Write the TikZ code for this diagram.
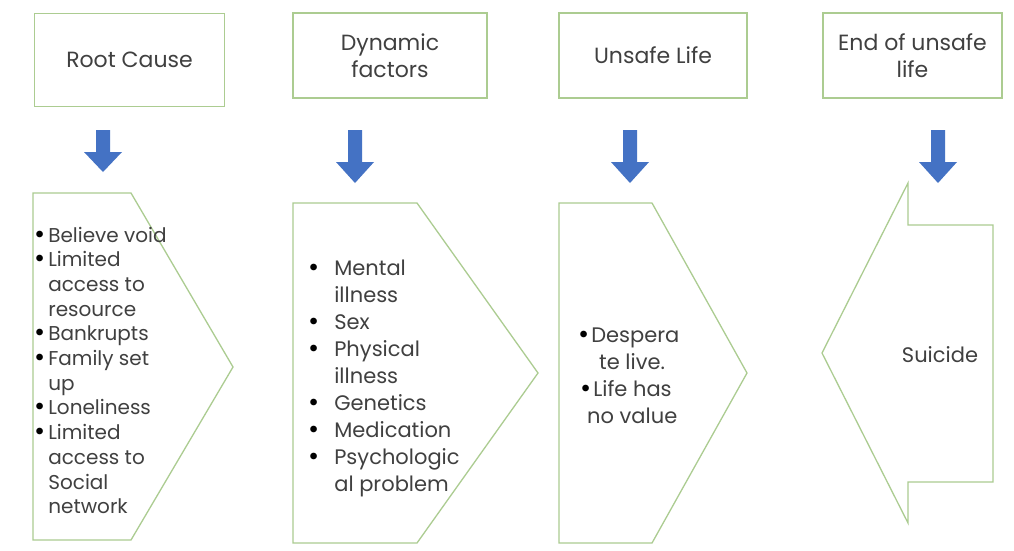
\documentclass[tikz,border=0pt]{standalone}
\usepackage{fontspec}
\setmainfont{Poppins}
\definecolor{boxgreen}{RGB}{172,204,145}
\definecolor{arrowblue}{RGB}{68,114,196}
\definecolor{txtgray}{RGB}{64,64,64}
\newcommand{\bul}{\raisebox{-1pt}{\color{black}\fontsize{27}{0}\selectfont\textbullet}}
\tikzset{
  topbox/.style={draw=boxgreen, line width=1.4pt, align=center, text=txtgray,
    inner sep=0pt, font=\fontsize{22}{27}\selectfont},
  pentshape/.style={draw=boxgreen, line width=1.3pt, line join=miter},
  downarrow/.style={fill=arrowblue, draw=none},
  listtext/.style={anchor=base west, inner sep=0pt, text=txtgray},
}
\begin{document}
\begin{tikzpicture}[x=1pt,y=-1pt]
\useasboundingbox (0,0) rectangle (1014,550);
\fill[white] (0,0) rectangle (1014,550);

% top boxes
\node[topbox, minimum width=190, minimum height=93] (b1) at (129.5,60) {Root Cause};
\node[topbox, minimum width=194, minimum height=85] (b2) at (390,55.5) {Dynamic\\factors};
\node[topbox, minimum width=188, minimum height=85] (b3) at (653,55.5) {Unsafe Life};
\node[topbox, minimum width=179, minimum height=85] (b4) at (912.5,55.5) {End of unsafe\\life};

% blue block arrows
\fill[downarrow] (96,130) -- (110,130) -- (110,152) -- (122,152) -- (103,172) -- (84,152) -- (96,152) -- cycle;
\fill[downarrow] (348,130) -- (362,130) -- (362,162) -- (374,162) -- (355,183) -- (336,162) -- (348,162) -- cycle;
\fill[downarrow] (623,130) -- (637,130) -- (637,162) -- (649,162) -- (630,183) -- (611,162) -- (623,162) -- cycle;
\fill[downarrow] (931,130) -- (945,130) -- (945,162) -- (957,162) -- (938,183) -- (919,162) -- (931,162) -- cycle;

% chevrons
\draw[pentshape] (33,193) -- (131,193) -- (233,367) -- (131,540) -- (33,540) -- cycle;
\draw[pentshape] (293,203) -- (417,203) -- (538,373) -- (417,543) -- (293,543) -- cycle;
\draw[pentshape] (559,203) -- (652,203) -- (747,373) -- (652,543) -- (559,543) -- cycle;
\draw[pentshape] (822,353) -- (908,183) -- (908,225) -- (993,225) -- (993,482) -- (908,482) -- (908,523) -- cycle;

% texts
\node[listtext, font=\fontsize{20}{24.7}\selectfont] (t1) at (34,242)
  {\begin{tabular}[t]{@{}l@{\hspace{3pt}}l@{}}
   \bul & Believe void\\
   \bul & Limited\\
   & access to\\
   & resource\\
   \bul & Bankrupts\\
   \bul & Family set\\
   & up\\
   \bul & Loneliness\\
   \bul & Limited\\
   & access to\\
   & Social\\
   & network
   \end{tabular}};
\node[listtext, font=\fontsize{21}{27}\selectfont] (t2) at (308,275)
  {\begin{tabular}[t]{@{}l@{\hspace{15pt}}l@{}}
   \bul & Mental\\
   & illness\\
   \bul & Sex\\
   \bul & Physical\\
   & illness\\
   \bul & Genetics\\
   \bul & Medication\\
   \bul & Psychologic\\
   & al problem
   \end{tabular}};
\node[listtext, font=\fontsize{21}{27}\selectfont] (t3) at (578,342)
  {\begin{tabular}[t]{@{}l@{}}
   \bul\hspace{2pt}Despera\\
   \hspace*{21pt}te live.\\
   \hspace*{2pt}\bul\hspace{2pt}Life has\\
   \hspace*{9pt}no value
   \end{tabular}};
\node[text=txtgray, font=\fontsize{21}{27}\selectfont, inner sep=0pt] (t4) at (940,355) {Suicide};
\end{tikzpicture}
\end{document}
